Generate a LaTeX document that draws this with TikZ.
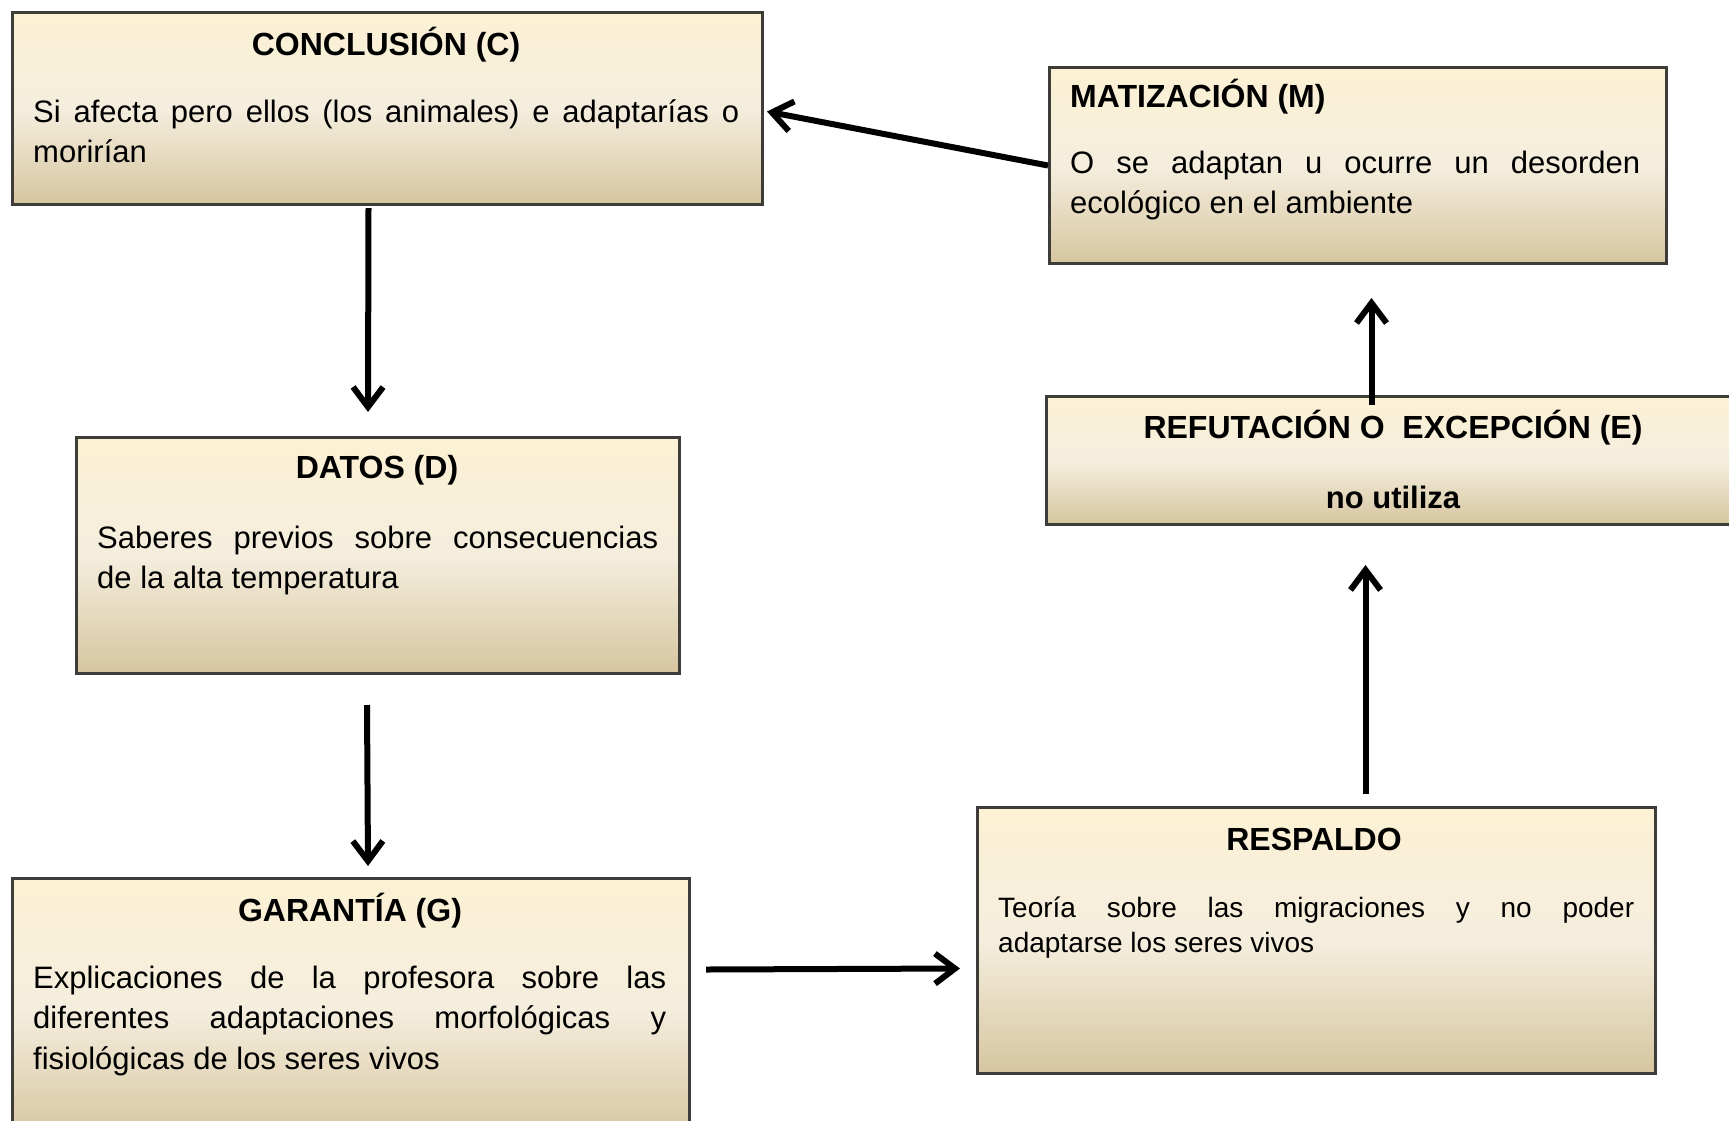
\documentclass[tikz,border=0pt]{standalone}
\usepackage{fontspec}
\setmainfont{Liberation Sans}
\usetikzlibrary{arrows.meta,calc}

\hyphenpenalty=10000
\exhyphenpenalty=10000
\tolerance=10000

\definecolor{boxtop}{RGB}{252,241,212}
\definecolor{boxmid}{RGB}{245,238,222}
\definecolor{boxbot}{RGB}{214,198,160}
\definecolor{boxline}{RGB}{62,60,56}

\tikzset{
  panel/.style={draw=boxline, line width=3pt, anchor=north west, inner sep=0pt,
    top color=boxtop, bottom color=boxbot, middle color=boxmid},
  heading/.style={inner sep=0pt, font=\fontsize{32}{38}\selectfont\bfseries},
  bodytext/.style={inner sep=0pt, anchor=base west, align=justify,
    font=\fontsize{31}{40.5}\selectfont},
  smalltext/.style={bodytext, font=\fontsize{28}{35}\selectfont},
  arr/.style={line width=6pt, -{Straight Barb[length=20pt,width=30pt]}},
}

\begin{document}
\begin{tikzpicture}[x=1pt, y=-1pt]
\useasboundingbox (0,0) rectangle (1729,1120);
\fill[white] (0,0) rectangle (1729,1120);
\clip (0,0) rectangle (1729,1120);

% boxes
\node[panel, minimum width=750pt, minimum height=192pt] (concl) at (11,11) {};
\node[panel, minimum width=617pt, minimum height=196pt] (mat) at (1048,66) {};
\node[panel, minimum width=700pt, minimum height=128pt] (refu) at (1045,395) {};
\node[panel, minimum width=603pt, minimum height=236pt] (datos) at (75,436) {};
\node[panel, minimum width=677pt, minimum height=260pt] (gar) at (11,877) {};
\node[panel, minimum width=678pt, minimum height=266pt] (resp) at (976,806) {};

% headings
\node[heading, anchor=base] (conclH) at (386,55) {CONCLUSIÓN (C)};
\node[heading, anchor=base west] (matH) at (1070,107) {MATIZACIÓN (M)};
\node[heading, anchor=base] (refuH) at (1393,438) {REFUTACIÓN O\ \ EXCEPCIÓN (E)};
\node[heading, anchor=base, font=\fontsize{31}{38}\selectfont\bfseries] (refuB) at (1393,508) {no utiliza};
\node[heading, anchor=base] (datosH) at (377,478) {DATOS (D)};
\node[heading, anchor=base] (garH) at (350,921) {GARANTÍA (G)};
\node[heading, anchor=base] (respH) at (1314,850) {RESPALDO};

% body texts
\node[bodytext, text width=706pt] (conclB) at (33,122)
  {Si afecta pero ellos (los animales) e adaptarías o\linebreak morirían};
\node[bodytext, text width=570pt] (matB) at (1070,173)
  {O se adaptan u ocurre un desorden\linebreak ecológico en el ambiente};
\node[bodytext, text width=561pt] (datosB) at (97,548)
  {Saberes previos sobre consecuencias\linebreak de la alta temperatura};
\node[bodytext, text width=633pt] (garB) at (33,988)
  {Explicaciones de la profesora sobre las\linebreak diferentes adaptaciones morfológicas y\linebreak fisiológicas de los seres vivos};
\node[smalltext, text width=636pt] (respB) at (998,917)
  {Teoría sobre las migraciones y no poder\linebreak adaptarse los seres vivos};

% connectors
\draw[arr] (mat.west) -- ($(concl.east)+(3,3)$);
\draw[arr] ($(concl.south)+(-19,2)$) -- ($(datos.north)+(-10,-24)$);
\draw[arr] ($(datos.south)+(-11,30)$) -- ($(gar.north)+(17,-11)$);
\draw[arr] ($(gar.east)+(15,-39)$) -- ($(resp.west)+(-16,28)$);
\draw[arr] ($(resp.north)+(49,-12)$) -- ($(refu.south)+(-31,39)$);
\draw[arr] ($(refu.north)+(-25,10)$) -- ($(mat.south)+(13.5,33)$);
\end{tikzpicture}
\end{document}
